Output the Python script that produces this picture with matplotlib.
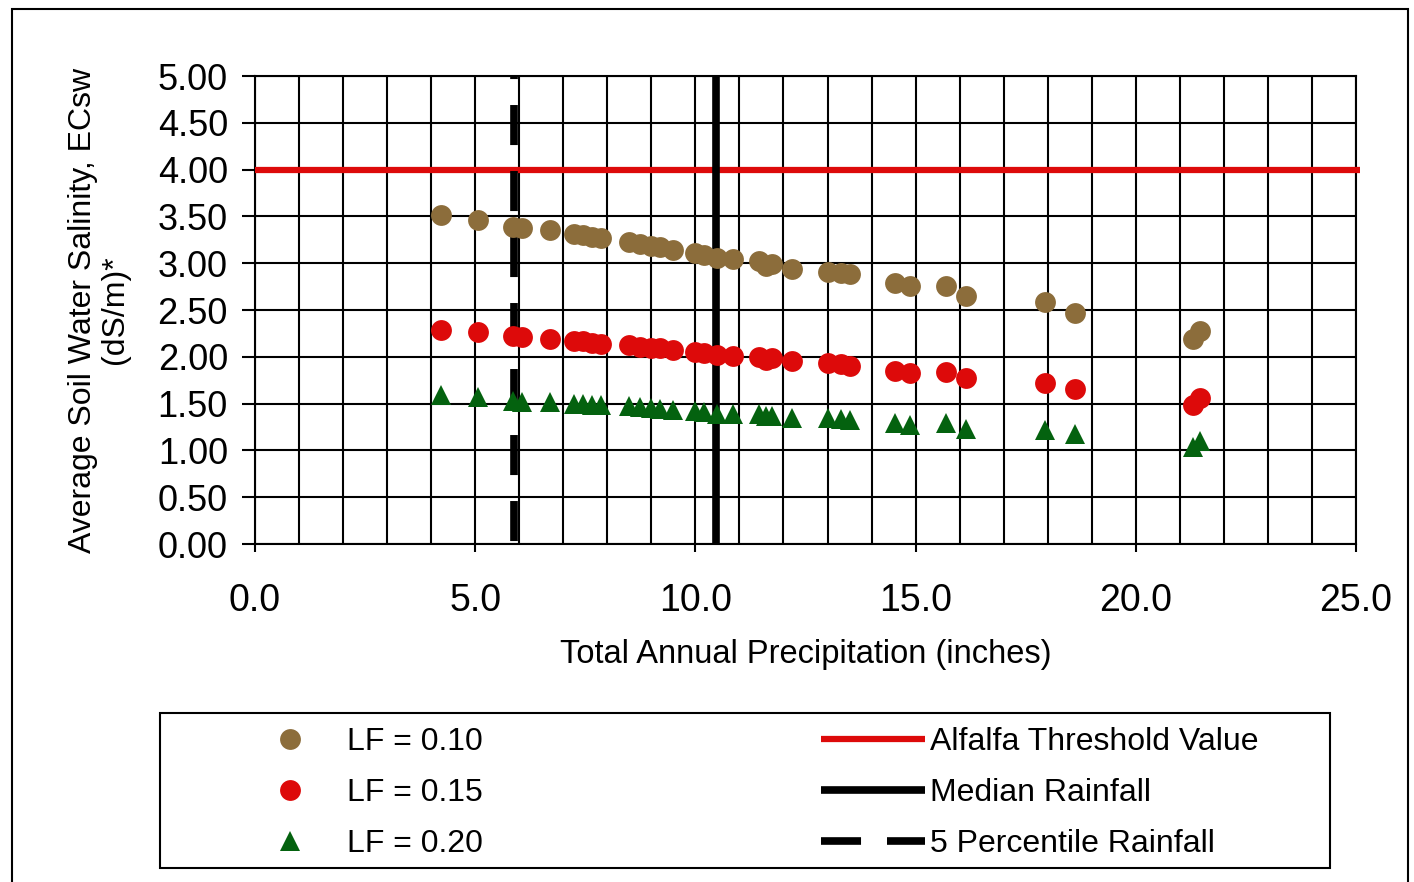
import matplotlib
matplotlib.use("Agg")
import matplotlib.pyplot as plt
from matplotlib.lines import Line2D
from matplotlib.patches import Rectangle
from matplotlib.ticker import MultipleLocator, FormatStrFormatter

plt.rcParams['font.family'] = ['Liberation Sans', 'DejaVu Sans']

# total annual precipitation (inches), one entry per simulated year
precip = [4.22, 5.07, 5.86, 6.06, 6.70, 7.25, 7.45, 7.65, 7.85, 8.50, 8.75,
          9.00, 9.20, 9.50, 10.00, 10.20, 10.50, 10.85, 11.45, 11.60, 11.75,
          12.20, 13.00, 13.30, 13.50, 14.53, 14.87, 15.70, 16.15, 17.94,
          18.62, 21.30, 21.45]

# average soil water salinity ECsw (dS/m) for each leaching fraction
ec_lf10 = [3.51, 3.46, 3.39, 3.38, 3.35, 3.31, 3.30, 3.28, 3.27, 3.23, 3.21,
           3.18, 3.17, 3.14, 3.11, 3.09, 3.06, 3.04, 3.02, 2.97, 2.99,
           2.94, 2.91, 2.89, 2.88, 2.79, 2.76, 2.76, 2.65, 2.59,
           2.47, 2.19, 2.28]
ec_lf15 = [2.29, 2.27, 2.22, 2.21, 2.19, 2.17, 2.17, 2.15, 2.14, 2.13, 2.11,
           2.09, 2.09, 2.07, 2.05, 2.04, 2.02, 2.01, 2.00, 1.97, 1.99,
           1.95, 1.93, 1.92, 1.90, 1.85, 1.83, 1.84, 1.77, 1.72,
           1.66, 1.48, 1.56]
ec_lf20 = [1.59, 1.57, 1.53, 1.52, 1.52, 1.50, 1.50, 1.49, 1.49, 1.47, 1.46,
           1.45, 1.44, 1.43, 1.42, 1.41, 1.39, 1.39, 1.39, 1.37, 1.37,
           1.35, 1.35, 1.34, 1.32, 1.29, 1.27, 1.29, 1.23, 1.22,
           1.18, 1.04, 1.10]

alfalfa_threshold = 4.0
median_rain = 10.47
pct5_rain = 5.88

BROWN = '#8c6d3b'
RED = '#dd0a0a'
GREEN = '#04620f'
MS = 15
DASH = (5.24, 3.4)

W, H = 1414, 882
fig = plt.figure(figsize=(W / 100, H / 100), dpi=100)
ax = fig.add_axes([255 / W, 1 - 544 / H, (1356 - 255) / W, (544 - 76) / H])

ax.set_xlim(0, 25)
ax.set_ylim(0, 5)
ax.xaxis.set_major_locator(MultipleLocator(5))
ax.xaxis.set_minor_locator(MultipleLocator(1))
ax.yaxis.set_major_locator(MultipleLocator(0.5))
ax.xaxis.set_major_formatter(FormatStrFormatter('%.1f'))
ax.yaxis.set_major_formatter(FormatStrFormatter('%.2f'))
ax.grid(True, which='both', color='black', linewidth=1.5)
ax.set_axisbelow(True)
ax.tick_params(axis='y', which='major', direction='out', length=9.5, width=1.5,
               labelsize=26, pad=10, colors='black')
ax.tick_params(axis='x', which='major', direction='out', length=6, width=1.5,
               labelsize=27, pad=22, colors='black')
ax.tick_params(axis='x', which='minor', length=0)
for s in ax.spines.values():
    s.set_linewidth(1.5)
    s.set_color('black')

# reference lines
ax.plot([0, 25.1], [alfalfa_threshold, alfalfa_threshold], color=RED, lw=4.5,
        solid_capstyle='butt', clip_on=False, zorder=3)
ax.plot([median_rain, median_rain], [5, 0], color='black', lw=5.5,
        solid_capstyle='butt', zorder=3)
ax.plot([pct5_rain, pct5_rain], [5, 0], color='black', lw=5.5,
        linestyle=(4.84, DASH), dash_capstyle='butt', zorder=3)

# scatter series
ax.plot(precip, ec_lf10, 'o', color=BROWN, ms=MS, mew=0, zorder=4)
ax.plot(precip, ec_lf15, 'o', color=RED, ms=MS, mew=0, zorder=4)
ax.plot(precip, ec_lf20, '^', color=GREEN, ms=MS, mew=0, zorder=4)

fig.text(99 / W, 1 - 310 / H,
         'Average Soil Water Salinity, ECsw\n(dS/m)*',
         rotation=90, ha='center', va='center', multialignment='center',
         fontsize=23, linespacing=1.05)
fig.text(806 / W, 1 - 655 / H, 'Total Annual Precipitation (inches)',
         ha='center', va='center', fontsize=23.5)

# legend
handles = [
    Line2D([], [], ls='none', marker='o', color=BROWN, ms=MS, mew=0),
    Line2D([], [], ls='none', marker='o', color=RED, ms=MS, mew=0),
    Line2D([], [], ls='none', marker='^', color=GREEN, ms=MS, mew=0),
    Line2D([], [], color=RED, lw=4.5, solid_capstyle='butt'),
    Line2D([], [], color='black', lw=5.5, solid_capstyle='butt'),
    Line2D([], [], color='black', lw=5.5, dashes=DASH, dash_capstyle='butt'),
]
labels = ['LF = 0.10', 'LF = 0.15', 'LF = 0.20',
          'Alfalfa Threshold Value', 'Median Rainfall', '5 Percentile Rainfall']
fig.legend(handles, labels, ncol=2, frameon=False, loc='center',
           bbox_to_anchor=(748 / W, 1 - 793 / H), fontsize=23,
           handlelength=3.25, handletextpad=0.15, columnspacing=10.6,
           labelspacing=0.66, borderpad=0, numpoints=1)
fig.add_artist(Rectangle((160 / W, 1 - 868 / H), (1330 - 160) / W, (868 - 713) / H,
                         transform=fig.transFigure, fill=False, lw=1.5,
                         edgecolor='black'))

# outer chart frame
fig.add_artist(Rectangle((12 / W, -0.05), (1408 - 12) / W, 1 - 9 / H + 0.05,
                         transform=fig.transFigure, fill=False, lw=1.5,
                         edgecolor='black'))

fig.savefig('out.png', dpi=100)
